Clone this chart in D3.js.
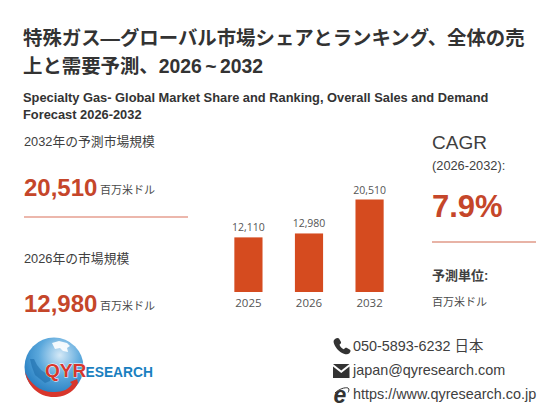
<!DOCTYPE html>
<html><head><meta charset="utf-8">
<script src="https://cdn.jsdelivr.net/npm/d3@7"></script>
<style>html,body{margin:0;padding:0;background:#fff}svg{display:block}
text{font-family:"Liberation Sans","Noto Sans CJK JP",sans-serif}</style></head>
<body><svg id="c" width="560" height="420"></svg>
<script>
const categories = ["2025","2026","2032"];
const values = [12110,12980,20510];
const valueLabels = ["12,110","12,980","20,510"];
const titleLines = ["特殊ガス—グローバル市場シェアとランキング、全体の売","上と需要予測、2026 ~ 2032"];
const subtitleLines = ["Specialty Gas- Global Market Share and Ranking, Overall Sales and Demand","Forecast 2026-2032"];
const contacts = ["050-5893-6232 日本","japan@qyresearch.com","https://www.qyresearch.co.jp"];

const svg = d3.select("#c");
const T = (x,y,s,size,fill,weight,extra)=>{const t=svg.append("text").attr("x",x).attr("y",y).text(s)
  .attr("font-size",size).attr("fill",fill).attr("font-weight",weight||400);
  if(extra) for(const k in extra) t.attr(k,extra[k]); return t;};
const dark="#404040", red="#c5462a";

titleLines.forEach((s,i)=>T(23,45+i*27.5,s,19.4,"#333",700,{"word-spacing":-2}));
subtitleLines.forEach((s,i)=>T(23,102+i*16.5,s,12.85,"#333",700));

T(24,146,"2032年の予測市場規模",12.8,dark);
T(24,196,"20,510",24,red,700);
T(100,194,"百万米ドル",11,"#4a4a4a");
svg.append("line").attr("x1",24).attr("x2",188).attr("y1",217).attr("y2",217).attr("stroke","#d9705a").attr("stroke-width",1.2);
T(24,263,"2026年の市場規模",12.8,dark);
T(24,312,"12,980",24,red,700);
T(100,310,"百万米ドル",11,"#4a4a4a");

// Bars
const x=d3.scaleBand().domain(categories).range([218,400]).paddingInner(0.535).paddingOuter(0.27);
const y=d3.scaleLinear().domain([0,20510]).range([292,199.5]);
svg.selectAll("rect.bar").data(values).join("rect").attr("class","bar")
  .attr("x",(d,i)=>x(categories[i])).attr("width",x.bandwidth())
  .attr("y",d=>y(d)).attr("height",d=>y(0)-y(d)).attr("fill","#d54b1f");
const chartFont='"Open Sans","Noto Sans",sans-serif';
svg.selectAll("text.val").data(values).join("text").attr("class","val")
  .attr("x",(d,i)=>x(categories[i])+x.bandwidth()/2).attr("y",d=>y(d)-6)
  .attr("text-anchor","middle").attr("font-size",10.5).attr("fill","#555").style("font-family",chartFont)
  .text((d,i)=>valueLabels[i]);
svg.selectAll("text.cat").data(categories).join("text").attr("class","cat")
  .attr("x",d=>x(d)+x.bandwidth()/2).attr("y",307)
  .attr("text-anchor","middle").attr("font-size",11.5).attr("fill","#555").style("font-family",chartFont)
  .text(d=>d);

// Right panel
T(432,149,"CAGR",19,dark);
T(432,170,"(2026-2032):",12.8,dark);
T(432,217,"7.9%",31,red,700);
svg.append("line").attr("x1",432).attr("x2",536).attr("y1",242).attr("y2",242).attr("stroke","#e09a88").attr("stroke-width",1.6);
T(432,280,"予測単位:",13,dark,700);
T(432,306,"百万米ドル",11,"#4a4a4a");

// Contacts
const cx=353;
T(cx,351,contacts[0],14.4,dark);
T(cx,375,contacts[1],14.4,dark);
T(cx,399,contacts[2],14.4,dark);
// phone icon
svg.append("path").attr("fill","#333").attr("d","M335 339c1.5-1 3-1.5 4-.5l2 3.5c.4 1-.5 2-1.500 2.700 .8 2 2.300 3.500 4.300 4.500 .8-1 1.800-1.800 2.800-1.400l3.400 2c1 .8 .4 2.400-.6 3.500-1.500 1.400-3.500 1.300-5.500 .4-5-2-8.500-6-10-10.500-.6-1.800-.4-3 1.100-4.200z");
// mail icon
svg.append("path").attr("fill","#333").attr("d","M333 364h16.500l-8.250 6.500z");
svg.append("path").attr("fill","#333").attr("d","M333 366.500l8.250 6.500 8.250-6.500v11.500h-16.500z");
// ie icon
T(333.5,403,"e",23,"#333",700,{"font-style":"italic"});
svg.append("path").attr("fill","none").attr("stroke","#333").attr("stroke-width",1).attr("d","M335 393c4-4 10-6 13-5 1.500 .8 1 3 0 4.500");

// Logo
const defs=svg.append("defs");
const g=defs.append("radialGradient").attr("id","gl").attr("cx","0.6").attr("cy","0.3").attr("r","0.8");
g.append("stop").attr("offset","0").attr("stop-color","#d5e9f7");
g.append("stop").attr("offset","0.45").attr("stop-color","#5ba8dc");
g.append("stop").attr("offset","1").attr("stop-color","#1470b8");
svg.append("circle").attr("cx",54).attr("cy",367).attr("r",29.5).attr("fill","url(#gl)");
svg.append("path").attr("fill","#fff").attr("opacity",.9).attr("d","M52 343l7-2 8 2 3 3-3 2 1 4-5-1-3-3-5 1z");
svg.append("path").attr("fill","#1a6aa8").attr("opacity",.55).attr("d","M30 359l4 0 3 6 4 5 6 4 4 1-1 6-5 2-5-4-5-4-3-8z");
svg.append("path").attr("fill","#d8362c").attr("d","M25 372c3 15 15 26 31 25 12-1 19-7 22-14l-1-4-7 3 2 2c-3 5-9 8-17 8-14 1-25-8-30-20z");
T(45,377,"QYR",19,"#d8362c",700,{"stroke":"#fff","stroke-width":0.8,"paint-order":"stroke"});
T(85.5,377,"ESEARCH",13.8,"#1a7fc0",700);
</script></body></html>
